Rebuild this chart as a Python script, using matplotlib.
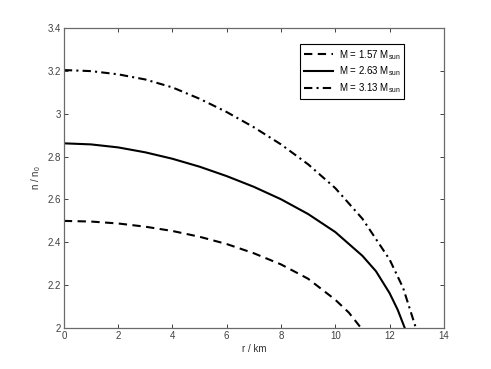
import matplotlib
matplotlib.use('Agg')
import matplotlib.pyplot as plt

plt.rcParams['font.family'] = ['Liberation Sans', 'DejaVu Sans']
plt.rcParams['mathtext.fontset'] = 'custom'
plt.rcParams['mathtext.rm'] = 'Liberation Sans'

# --- density profiles ---
r_157 = [0, 1, 2, 3, 4, 5, 6, 7, 8, 9, 10, 10.5, 10.95]
n_157 = [2.500, 2.497, 2.488, 2.473, 2.453, 2.426, 2.392, 2.349, 2.297, 2.230,
         2.132, 2.072, 2.0]

r_263 = [0, 1, 2, 3, 4, 5, 6, 7, 8, 9, 10, 11, 11.5, 12, 12.3, 12.56]
n_263 = [2.862, 2.857, 2.843, 2.820, 2.790, 2.753, 2.709, 2.659, 2.601, 2.532,
         2.448, 2.337, 2.265, 2.163, 2.085, 2.0]

r_313 = [0, 1, 2, 3, 4, 5, 6, 7, 8, 9, 10, 11, 12, 12.5, 12.97]
n_313 = [3.204, 3.199, 3.184, 3.160, 3.123, 3.070, 3.008, 2.937, 2.857, 2.764,
         2.653, 2.510, 2.320, 2.187, 2.0]

labels = ['M = 1.57 M$_{\\mathrm{sun}}$', 'M = 2.63 M$_{\\mathrm{sun}}$', 'M = 3.13 M$_{\\mathrm{sun}}$']

x_ticks = [0, 2, 4, 6, 8, 10, 12, 14]
y_ticks = [2, 2.2, 2.4, 2.6, 2.8, 3, 3.2, 3.4]
y_tick_labels = ['2', '2.2', '2.4', '2.6', '2.8', '3', '3.2', '3.4']

# --- figure ---
fig = plt.figure(figsize=(4.91, 3.69), dpi=100)
ax = fig.add_axes([0.130, 0.111, 0.774, 0.813])

ax.plot(r_157, n_157, color='black', lw=1.5, dashes=(4, 2.6), label=labels[0])
ax.plot(r_263, n_263, color='black', lw=1.5, label=labels[1])
ax.plot(r_313, n_313, color='black', lw=1.5, dashes=(4, 2, 1, 2), label=labels[2])

ax.set_xlim(0, 14)
ax.set_ylim(2, 3.4)
ax.set_xticks(x_ticks)
ax.set_yticks(y_ticks)
ax.set_yticklabels(y_tick_labels)
ax.tick_params(direction='in', length=3, width=0.7, labelsize=7, colors='#404040',
               top=True, right=True, pad=2)
for s in ax.spines.values():
    s.set_color('#6a6a6a')
    s.set_linewidth(0.9)

ax.set_xlabel('r / km', fontsize=7, color='#303030', labelpad=2)
ax.set_ylabel('n / n$_0$', fontsize=7, color='#303030', labelpad=3)

leg = ax.legend(loc='upper left', bbox_to_anchor=(0.621, 0.947), borderaxespad=0,
                fontsize=7, fancybox=False, framealpha=1, edgecolor='black',
                handlelength=3.0, handletextpad=0.6, labelspacing=0.3,
                borderpad=0.4)
leg.get_frame().set_linewidth(0.8)

fig.savefig('out.png', dpi=100)
